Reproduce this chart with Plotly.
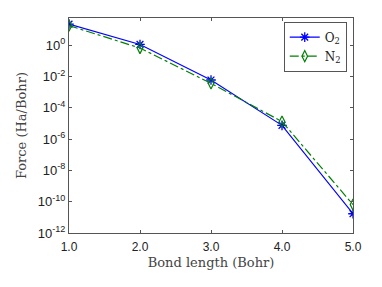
import plotly.graph_objects as go

bond_length = [1.0, 2.0, 3.0, 4.0, 5.0]
force_o2 = [22.0, 1.1, 5.9e-3, 7.5e-6, 1.7e-11]
force_n2 = [17.6, 0.65, 3.6e-3, 1.3e-5, 6.5e-11]
x_tick_labels = ["1.0", "2.0", "3.0", "4.0", "5.0"]
y_tick_exponents = [0, -2, -4, -6, -8, -10, -12]

fig = go.Figure()
fig.add_trace(go.Scatter(
    x=bond_length, y=force_o2, mode="lines+markers", name="O<sub>2</sub>",
    line=dict(color="rgb(0,0,255)", width=1.2),
    marker=dict(symbol="asterisk-open", size=8, color="rgb(0,0,255)",
                line=dict(color="rgb(0,0,255)", width=1.3)),
))
fig.add_trace(go.Scatter(
    x=bond_length, y=force_n2, mode="lines+markers", name="N<sub>2</sub>",
    line=dict(color="rgb(0,128,0)", width=1.2, dash="dashdot"),
    marker=dict(symbol="diamond-tall-open", size=8, color="rgb(0,128,0)",
                line=dict(color="rgb(0,128,0)", width=1.2)),
))

axis_color = "#555555"
fig.update_layout(
    width=382, height=287,
    margin=dict(l=69, r=29, t=18, b=54),
    paper_bgcolor="white", plot_bgcolor="white",
    showlegend=True,
    legend=dict(
        x=0.978, y=0.983, xanchor="right", yanchor="top",
        bgcolor="white", bordercolor="#555555", borderwidth=1,
        font=dict(family="DejaVu Serif", size=12, color="#222222"),
        itemwidth=30, tracegroupgap=4,
    ),
    xaxis=dict(
        range=[1.0, 5.0], tickvals=bond_length, ticktext=x_tick_labels,
        ticks="inside", ticklen=3, tickcolor=axis_color,
        showline=True, linecolor=axis_color, linewidth=1, mirror="ticks",
        showgrid=False, zeroline=False, ticklabelstandoff=3,
        tickfont=dict(family="Liberation Sans", size=12, color="#222222"),
        title=dict(text="Bond length (Bohr)", standoff=4,
                   font=dict(family="DejaVu Serif", size=13, color="#444444")),
    ),
    yaxis=dict(
        type="log", range=[-12, 1.73],
        tickvals=[10.0 ** e for e in y_tick_exponents],
        ticktext=["10<sup>%d</sup>" % e for e in y_tick_exponents],
        ticks="inside", ticklen=3, tickcolor=axis_color,
        showline=True, linecolor=axis_color, linewidth=1, mirror="ticks",
        showgrid=False, zeroline=False,
        tickfont=dict(family="Liberation Sans", size=13, color="#222222"),
        title=dict(text="Force (Ha/Bohr)", standoff=8,
                   font=dict(family="DejaVu Serif", size=13, color="#444444")),
    ),
)

fig.write_html("out.html", config={"displayModeBar": False},
               post_script="document.body.style.margin='0';")
